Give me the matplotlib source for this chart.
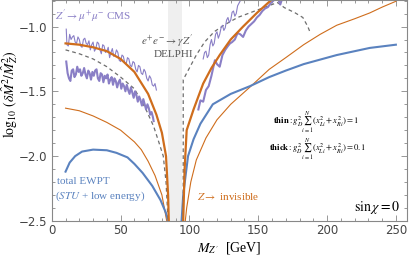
import numpy as np
import matplotlib
matplotlib.use("Agg")
import matplotlib.pyplot as plt

plt.rcParams['mathtext.fontset'] = 'stix'

# Z -> invisible (thick / thin)
orange_thick_l_x = [10, 20, 30, 40, 50, 60, 70, 76, 80, 83, 84.5, 85]
orange_thick_l_y = [-1.13, -1.14, -1.16, -1.19, -1.25, -1.35, -1.52, -1.68, -1.82, -2.0, -2.3, -2.5]
orange_thick_r_x = [95.5, 96.5, 98, 103, 110, 116, 122, 130, 139, 149, 160]
orange_thick_r_y = [-2.5, -2.1, -1.8, -1.64, -1.44, -1.32, -1.22, -1.10, -1.0, -0.895, -0.79]

orange_thin_l_x = [10, 20, 30, 40, 50, 60, 65, 70, 75, 80, 83.5]
orange_thin_l_y = [-1.63, -1.65, -1.69, -1.74, -1.80, -1.89, -1.95, -2.04, -2.15, -2.3, -2.5]
orange_thin_r_x = [97, 98, 101, 105, 112, 120, 130, 144, 158, 170, 183, 195, 207, 220, 231, 240, 250]
orange_thin_r_y = [-2.5, -2.4, -2.2, -2.03, -1.86, -1.72, -1.6, -1.467, -1.33, -1.24, -1.14, -1.06,
                   -0.99, -0.94, -0.895, -0.85, -0.805]

# total EWPT
blue_l_x = [10, 13, 17, 22, 30, 40, 47, 55, 60, 66, 73, 79, 83, 84.5]
blue_l_y = [-2.12, -2.05, -2.0, -1.965, -1.95, -1.955, -1.975, -2.01, -2.06, -2.13, -2.23, -2.34, -2.44, -2.5]
blue_r_x = [94.3, 95.5, 97, 99, 103, 108, 117, 130, 144, 158, 170, 183, 207, 231, 250]
blue_r_y = [-2.5, -2.3, -2.17, -2.0, -1.87, -1.75, -1.6, -1.52, -1.46, -1.39, -1.34, -1.29, -1.22, -1.165, -1.14]

# e+e- -> gamma Z' DELPHI
delphi_l_x = [10, 20, 30, 40, 50, 60, 68, 74, 78, 81, 83, 84.5]
delphi_l_y = [-1.18, -1.21, -1.25, -1.31, -1.39, -1.48, -1.63, -1.77, -1.9, -2.0, -2.2, -2.5]
delphi_r_x = [95.5, 95.5, 100, 105, 111, 118, 125, 135, 145, 155, 160, 164, 169, 176.6, 182.4, 186, 187.5]
delphi_r_y = [-2.5, -1.41, -1.32, -1.22, -1.12, -1.04, -0.99, -0.93, -0.89, -0.85, -0.83, -0.815,
              -0.854, -0.893, -0.93, -1.0, -1.04]

# Z' -> mu mu CMS (thin / thick)
cms_thin_l_x = [10.5, 11, 12, 13, 14, 15, 16, 17, 18, 19, 20, 21, 22, 23, 24, 25, 26, 27, 28, 29,
                30, 31, 32, 33, 34, 35, 36, 37, 38, 39, 40, 41, 42, 43, 44, 45, 46, 47, 48, 49,
                50, 51, 52, 53, 54, 55, 56, 57, 58, 59, 60, 61, 62, 63, 64, 65, 66, 67, 68, 69,
                70, 71, 72, 73, 74, 75, 76]
cms_thin_l_y = [-1.02, -1.14, -1.15, -1.06, -1.10, -1.08, -1.07, -1.12, -1.13, -1.08, -1.10, -1.15,
                -1.16, -1.10, -1.09, -1.13, -1.14, -1.11, -1.18, -1.14, -1.12, -1.19, -1.17, -1.12,
                -1.13, -1.18, -1.21, -1.14, -1.15, -1.20, -1.19, -1.16, -1.24, -1.20, -1.17, -1.23,
                -1.22, -1.18, -1.20, -1.26, -1.27, -1.22, -1.23, -1.28, -1.29, -1.24, -1.25, -1.30,
                -1.31, -1.27, -1.28, -1.33, -1.35, -1.30, -1.31, -1.36, -1.37, -1.33, -1.35, -1.40,
                -1.42, -1.38, -1.40, -1.45, -1.46, -1.44, -1.49]
cms_thick_l_x = [10.5, 11.5, 12.5, 13.5, 14.5, 15.5, 16.5, 17.5, 18.5, 19.5, 20.5, 21.5, 22.5, 23.5,
                 24.5, 25.5, 26.5, 27.5, 28.5, 29.5, 30.5, 31.5, 32.5, 33.5, 34.5, 35.5, 36.5, 37.5,
                 38.5, 39.5, 40.5, 41.5, 42.5, 43.5, 44.5, 45.5, 46.5, 47.5, 48.5, 49.5, 50.5, 51.5,
                 52.5, 53.5, 54.5, 55.5, 56.5, 57.5, 58.5, 59.5, 60.5, 61.5, 62.5, 63.5, 64.5, 65.5,
                 66.5, 67.5, 68.5, 69.5, 70.5, 71.5, 72.5, 73.5, 74]
cms_thick_l_y = [-1.27, -1.36, -1.40, -1.42, -1.34, -1.33, -1.39, -1.37, -1.31, -1.35, -1.33, -1.38,
                 -1.36, -1.32, -1.37, -1.40, -1.34, -1.36, -1.41, -1.35, -1.38, -1.34, -1.33, -1.40,
                 -1.42, -1.36, -1.37, -1.43, -1.38, -1.40, -1.37, -1.44, -1.41, -1.39, -1.45, -1.40,
                 -1.42, -1.47, -1.43, -1.41, -1.48, -1.44, -1.46, -1.50, -1.45, -1.49, -1.52, -1.47,
                 -1.51, -1.55, -1.50, -1.53, -1.58, -1.54, -1.57, -1.61, -1.56, -1.60, -1.64, -1.60,
                 -1.63, -1.68, -1.66, -1.70, -1.73]
cms_thin_r_x = [110, 111, 112, 113, 114, 115, 116, 117, 118, 119, 120, 121, 122, 123, 124, 125, 126,
                127, 128, 129, 130, 131, 132, 133, 134, 135, 136, 137, 138]
cms_thin_r_y = [-1.25, -1.20, -1.19, -1.24, -1.22, -1.14, -1.10, -1.15, -1.13, -1.06, -1.04, -1.09,
                -1.06, -1.01, -0.99, -1.03, -1.01, -0.95, -0.93, -0.97, -0.95, -0.89, -0.88, -0.92,
                -0.90, -0.84, -0.82, -0.80, -0.76]
cms_thick_r_x = [106.5, 108, 110, 112, 114, 116, 118.5, 120, 122, 124, 126, 128, 129.5, 131, 133,
                 135, 137, 139, 141, 143, 145, 147, 149, 151, 153, 155, 157, 159, 161, 163, 164.5,
                 166, 167.5]
cms_thick_r_y = [-1.64, -1.57, -1.58, -1.49, -1.46, -1.38, -1.26, -1.29, -1.31, -1.22, -1.18, -1.15,
                 -1.13, -1.12, -1.10, -1.05, -1.06, -1.08, -1.03, -1.00, -0.98, -0.96, -0.93, -0.91,
                 -0.88, -0.86, -0.85, -0.82, -0.80, -0.78, -0.79, -0.83, -0.78]

band = (84.5, 94.5)

orange = '#cf6d1c'
blue = '#5a82bf'
purple = '#8a7fc6'
gray = '#6e6e6e'


def main():
    fig = plt.figure(figsize=(4.11, 2.62), dpi=100)
    ax = fig.add_axes([0.126, 0.157, 0.864, 0.843])

    ax.axvspan(band[0], band[1], color='#efefef', lw=0, zorder=0)

    ax.plot(orange_thin_l_x, orange_thin_l_y, color=orange, lw=0.8)
    ax.plot(orange_thin_r_x, orange_thin_r_y, color=orange, lw=0.8)
    ax.plot(blue_l_x, blue_l_y, color=blue, lw=1.5)
    ax.plot(blue_r_x, blue_r_y, color=blue, lw=1.5)
    ax.plot(delphi_l_x, delphi_l_y, color=gray, lw=0.9, dashes=(3, 2.5))
    ax.plot(delphi_r_x, delphi_r_y, color=gray, lw=0.9, dashes=(3, 2.5))
    ax.plot(cms_thin_l_x, cms_thin_l_y, color=purple, lw=0.8)
    ax.plot(cms_thin_r_x, cms_thin_r_y, color=purple, lw=0.8)
    ax.plot(cms_thick_l_x, cms_thick_l_y, color=purple, lw=1.5)
    ax.plot(cms_thick_r_x, cms_thick_r_y, color=purple, lw=1.5)
    ax.plot(orange_thick_l_x, orange_thick_l_y, color=orange, lw=1.6)
    ax.plot(orange_thick_r_x, orange_thick_r_y, color=orange, lw=1.6)

    ax.set_xlim(0, 258)
    ax.set_ylim(-2.5, -0.795)
    ax.set_xticks([0, 50, 100, 150, 200, 250])
    ax.set_xticks(np.arange(0, 260, 10), minor=True)
    ax.set_yticks([-2.5, -2.0, -1.5, -1.0])
    ax.set_yticks(np.arange(-2.5, -0.79, 0.1), minor=True)
    ax.set_yticklabels(['\u22122.5', '\u22122.0', '\u22121.5', '\u22121.0'])
    ax.tick_params(which='both', direction='in', top=True, right=True, color='#888888',
                   labelsize=8.5, labelcolor='#444444', width=0.6)
    ax.tick_params(which='major', length=4)
    ax.tick_params(which='minor', length=2)
    ax.tick_params(axis='x', pad=2)
    for s in ax.spines.values():
        s.set_color('#888888')
        s.set_linewidth(0.8)

    ax.text(2.4, -0.92, r"$Z' \rightarrow \mu^{+}\mu^{-}$ CMS", color=purple, fontsize=8,
            family='Liberation Serif', va='center')
    ax.text(65, -1.114, r"$e^{+}e^{-} \rightarrow \gamma Z'$", color='#555555', fontsize=8,
            family='Liberation Serif', va='center')
    ax.text(88.3, -1.217, "DELPHI", color='#555555', fontsize=8, family='Liberation Serif',
            va='center', ha='center')
    ax.text(161, -1.755, r"$\mathbf{thin}: g_D^2 \sum_{i=1}^{N}(x_{Li}^2+x_{Ri}^2)=1$",
            fontsize=6.2, va='baseline')
    ax.text(157.5, -1.96, r"$\mathbf{thick}: g_D^2 \sum_{i=1}^{N}(x_{Li}^2+x_{Ri}^2)=0.1$",
            fontsize=6.2, va='baseline')
    ax.text(253, -2.40, r"$\sin\chi = 0$", fontsize=10, ha='right', va='center')
    ax.text(3.6, -2.196, "total EWPT", color=blue, fontsize=8, family='Liberation Serif',
            va='center')
    ax.text(2.5, -2.312, r"($STU$ + low energy)", color=blue, fontsize=8,
            family='Liberation Serif', va='center')
    ax.text(105.2, -2.312, r"$Z \rightarrow$ invisible", color=orange, fontsize=8,
            family='Liberation Serif', va='center')

    fig.text(229 / 411, 1 - 248 / 262, r"$M_{Z'}$  [GeV]", fontsize=10,
             family='Liberation Serif', ha='center', va='center')
    fig.text(10 / 411, 1 - 94 / 262,
             r"$\log_{10}\,(\delta \hat{M}^2/\hat{M}_Z^2)$", fontsize=10, rotation=90,
             ha='center', va='center')

    fig.savefig('out.png', dpi=100)


if __name__ == "__main__":
    main()
